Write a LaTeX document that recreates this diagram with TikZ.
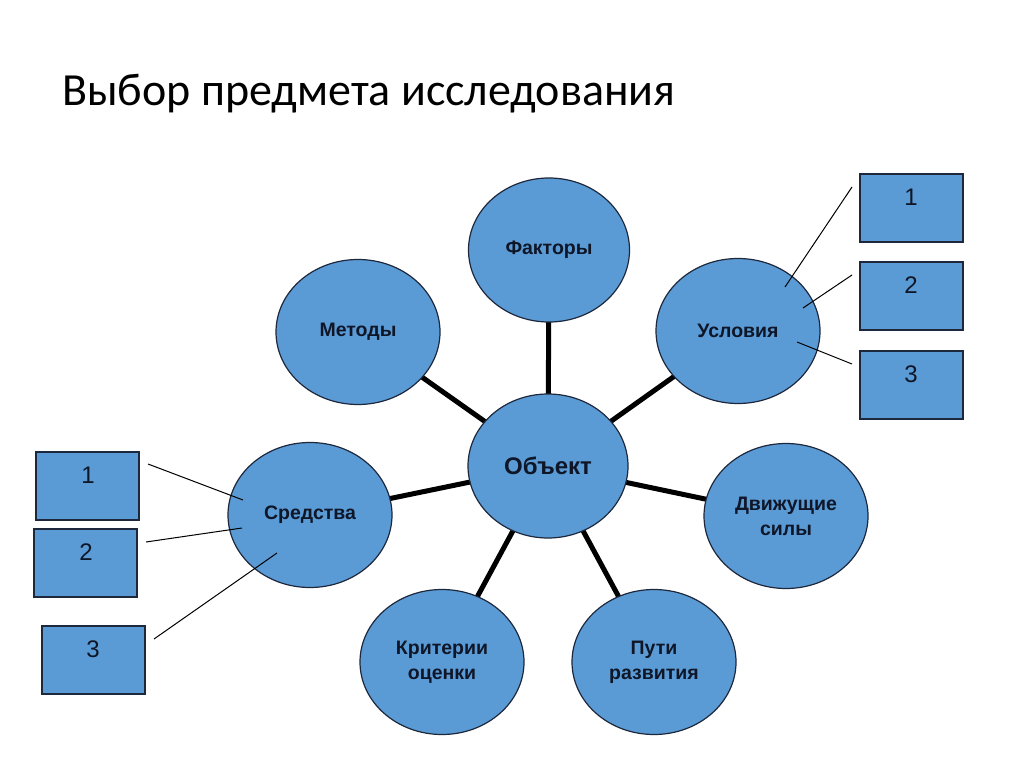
\documentclass[tikz,border=0pt]{standalone}
\usepackage{fontspec}
\setmainfont{Liberation Sans}
\newfontfamily\titlefont{Carlito}
\usetikzlibrary{shapes.geometric,backgrounds}
\definecolor{fillc}{RGB}{91,155,213}
\definecolor{textc}{RGB}{14,22,40}
\definecolor{linec}{RGB}{30,40,60}
\begin{document}
\begin{tikzpicture}[x=1pt,y=-1pt,
  oval/.style={ellipse,draw=linec,line width=1.2pt,fill=fillc,inner sep=0pt,
    minimum width=164pt,minimum height=145pt,text=textc,
    font=\fontsize{19.5}{25}\selectfont\bfseries,align=center},
  numbox/.style={rectangle,draw=linec,line width=1.5pt,fill=fillc,
    minimum width=103pt,minimum height=68pt,inner sep=0pt},
  numtxt/.style={text=textc,font=\fontsize{24}{28}\selectfont,inner sep=0pt},
  spoke/.style={line width=5pt,black},
  thin/.style={line width=1pt,black}]
\useasboundingbox (0,0) rectangle (1024,767);
\node[anchor=base west,inner sep=0pt,font=\titlefont\fontsize{46}{50}\selectfont] (title) at (62,106) {Выбор предмета исследования};

\node[oval,minimum width=161pt,minimum height=144pt] (fak) at (549,250) {Факторы};
\node[oval] (met) at (358,332) {Методы};
\node[oval] (usl) at (738,331) {Условия};
\node[oval,minimum width=160pt,minimum height=144pt,font=\fontsize{24}{28}\selectfont\bfseries] (obj) at (548,466) {Объект};
\node[oval] (sre) at (310,515) {Средства};
\node[oval] (dvi) at (786,516) {Движущие\\силы};
\node[oval] (kri) at (442,662) {Критерии\\оценки};
\node[oval] (put) at (654,662) {Пути\\развития};

\begin{scope}[on background layer]
  \fill[white] (0,0) rectangle (1024,767);
  \foreach \n in {fak,met,usl,sre,dvi,kri,put}
    \draw[spoke] (obj.center) -- (\n.center);
\end{scope}

% right boxes
\node[numbox] (r1) at (911.5,208) {};
\node[numbox] (r2) at (911.5,296) {};
\node[numbox] (r3) at (911.5,385) {};
\node[numtxt] (r1t) at (911,197) {1};
\node[numtxt] (r2t) at (911,285) {2};
\node[numtxt] (r3t) at (911,374) {3};
% left boxes
\node[numbox] (l1) at (87.5,486) {};
\node[numbox] (l2) at (85.5,563) {};
\node[numbox] (l3) at (93.5,660) {};
\node[numtxt] (l1t) at (88,475) {1};
\node[numtxt] (l2t) at (86,552) {2};
\node[numtxt] (l3t) at (93,649) {3};

% thin leader lines
\coordinate (ra1) at (852,187); \coordinate (rb1) at (785,287);
\coordinate (ra2) at (852,275); \coordinate (rb2) at (803,308);
\coordinate (ra3) at (852,364); \coordinate (rb3) at (797,342);
\coordinate (la1) at (148,464); \coordinate (lb1) at (243,500);
\coordinate (la2) at (146,542); \coordinate (lb2) at (242,528);
\coordinate (la3) at (154,639); \coordinate (lb3) at (277,553);
\draw[thin] (ra1) -- (rb1);
\draw[thin] (ra2) -- (rb2);
\draw[thin] (rb3) -- (ra3);
\draw[thin] (la1) -- (lb1);
\draw[thin] (la2) -- (lb2);
\draw[thin] (la3) -- (lb3);
\end{tikzpicture}
\end{document}
